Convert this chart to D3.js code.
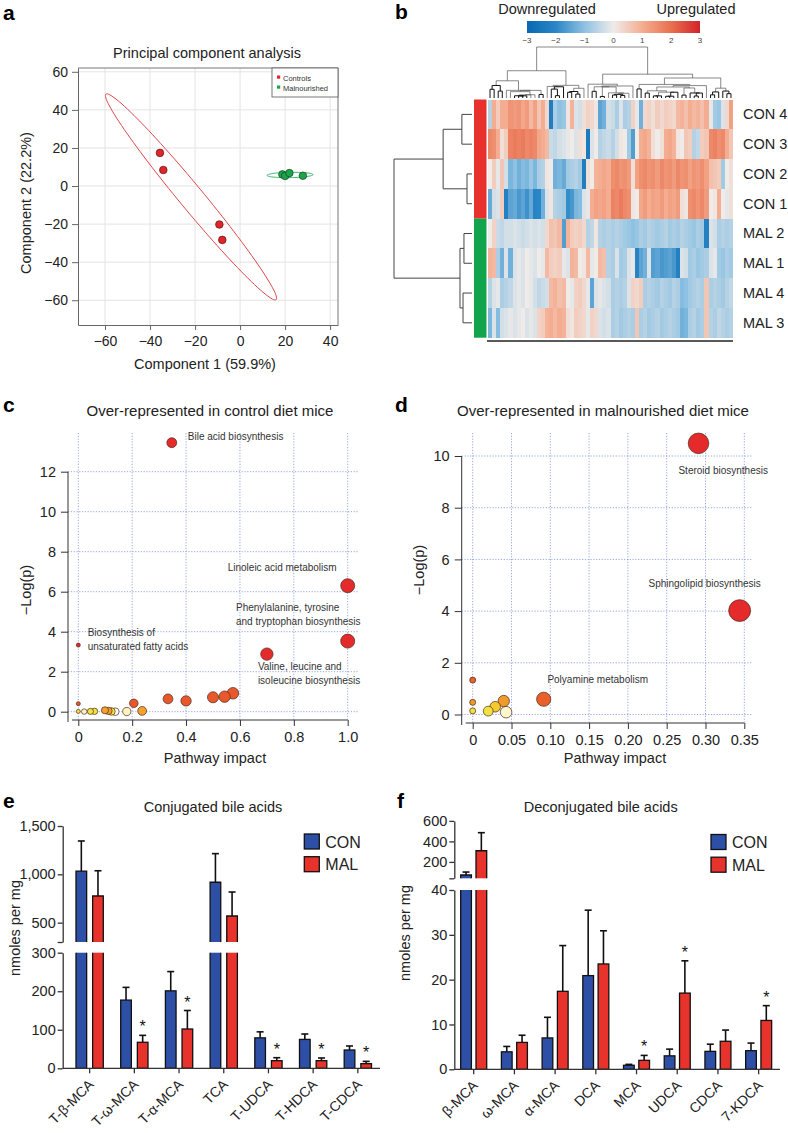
<!DOCTYPE html>
<html><head><meta charset="utf-8">
<script src="https://cdn.jsdelivr.net/npm/d3@7"></script>
<style>
body{margin:0;background:#fff;}
svg{display:block;font-family:"Liberation Sans",Arial,Helvetica,sans-serif;}
</style></head><body>
<svg id="fig" width="788" height="1133"></svg>
<script>
// ================= DATA =================
// a: PCA
const pcaConX = [-35.6, -34.1, -9.2, -7.9];
const pcaConY = [17.4, 8.4, -20.2, -28.3];
const pcaMalX = [18.8, 20.0, 21.9, 27.9];
const pcaMalY = [6.1, 5.3, 6.8, 5.4];
const pcaTicksX = [-60, -40, -20, 0, 20, 40];
const pcaTicksY = [-60, -40, -20, 0, 20, 40, 60];
const ellCon = {cx: -21.8, cy: -5.7, ax: 37.8, ay: -54, bx: 4.1, by: 4.0};
const ellMal = {cx: 22.2, cy: 5.8, ax: 10.2, ay: 0.2, bx: 0, by: 1.4};
const pcaLegend = ["Controls", "Malnourished"];

// b: heatmap (z-scores, 60 feature columns in display order)
const hmRows = ["CON 4", "CON 3", "CON 2", "CON 1", "MAL 2", "MAL 1", "MAL 4", "MAL 3"];
const hmCON4 = [-0.6,1.0,0.5,1.0,1.0,1.4,1.3,1.4,1.1,1.3,0.8,1.2,0.6,1.0,0.3,-2.3,-0.7,-1.0,-0.9,0.1,0.9,-0.2,-0.3,0.2,0.4,0.3,0.1,-1.5,-1.3,-0.3,-0.4,-0.7,-0.2,-0.7,-0.6,0.4,-0.1,-1.3,0.3,0.4,0.2,0.5,0.3,0.5,0.4,0.3,0.8,0.9,0.7,1.0,0.8,0.9,0.7,1.0,-0.1,-0.8,-0.9,-0.2,0.3,1.2];
const hmCON3 = [1.6,1.5,1.0,0.2,0.5,1.7,1.8,1.7,1.8,1.6,1.7,1.6,1.1,1.0,0.8,-0.4,-0.5,-0.3,-0.2,-0.1,0.0,-0.2,0.2,0.1,-2.4,-0.2,0.0,-0.6,-0.5,-0.4,-0.6,-0.3,0.1,0.0,-0.8,-1.6,0.0,1.0,1.1,0.9,0.2,0.0,0.2,1.0,1.1,0.9,0.1,0.0,0.6,0.5,-0.6,-0.5,0.5,0.6,1.6,1.7,1.5,1.6,1.0,0.6];
const hmCON2 = [0.0,0.5,-0.1,0.6,-0.3,-1.2,-1.0,-1.3,-1.1,-1.2,-0.9,-1.2,-0.7,-0.6,0.1,0.0,-1.3,-1.2,-1.4,-0.8,-0.7,-0.6,-0.8,-2.3,0.2,0.0,0.9,1.0,1.1,1.0,1.5,1.6,1.4,1.5,1.3,0.2,1.2,1.5,1.6,1.4,1.5,1.3,1.6,1.4,1.5,1.3,1.6,1.4,1.5,1.2,1.4,1.3,1.5,1.2,0.7,0.6,0.5,-0.8,0.0,0.2];
const hmCON1 = [-1.4,-0.3,-0.2,0.5,-2.2,-1.5,-1.4,-1.7,-1.5,-1.8,-1.4,-2.1,-2.0,-1.3,-0.2,0.1,-0.6,-0.7,-0.8,-1.9,-1.7,-1.2,-1.1,-0.2,-0.1,1.0,1.2,1.1,1.2,1.0,1.7,1.6,1.8,1.6,1.5,0.1,0.0,1.1,1.3,1.0,1.2,1.1,1.3,1.0,1.2,1.1,1.3,0.2,0.1,1.5,1.6,1.4,1.6,1.3,0.0,0.1,1.0,0.0,-0.1,0.2];
const hmMAL2 = [0.0,0.4,-0.4,-0.5,-0.3,-0.3,-0.2,-0.3,-0.4,-0.3,-0.2,-0.3,-0.2,-0.3,0.3,0.7,0.6,0.8,-1.6,0.9,0.5,0.4,0.5,0.3,-0.6,-0.5,0.1,-0.6,-0.7,-0.6,-0.7,-0.6,-0.7,-0.8,-0.9,-1.0,-0.9,-0.7,-0.8,-0.6,-0.7,-0.8,-0.7,-0.6,-0.8,-0.7,-0.8,-0.6,-0.7,-0.8,-0.9,-0.7,-0.8,-2.2,-0.2,-0.3,-0.7,-0.6,-0.7,-0.6];
const hmMAL1 = [0.9,0.8,-0.7,-1.3,-0.2,-1.3,-0.2,-0.1,-0.2,0.0,-0.1,-0.2,0.0,-0.1,0.8,0.5,0.4,0.5,-0.1,-0.2,0.9,0.8,0.0,0.1,0.8,-0.1,0.0,0.8,0.7,-0.6,-0.7,-0.2,-0.8,-0.7,-0.2,-0.1,-2.1,-1.5,-1.3,-0.2,-1.6,-1.5,-1.7,-1.6,-1.5,-1.7,-2.2,-0.2,-0.3,-0.8,-0.7,-0.9,-0.8,-0.7,-0.2,-0.1,-0.8,-0.9,-0.7,-0.8];
const hmMAL4 = [-0.6,-0.2,-0.1,-0.7,-0.6,-0.5,-0.2,-0.1,-0.2,0.0,-0.1,-0.3,-0.5,-0.4,-0.3,0.8,0.9,0.7,0.8,0.0,-0.1,0.4,0.5,0.3,-0.1,-1.5,-0.2,-0.1,-0.2,-0.3,-0.7,-0.6,-0.7,-0.6,-0.2,0.4,0.3,0.5,-0.7,-0.6,-0.7,-0.8,-0.6,-0.7,-0.8,-0.6,-0.7,-1.1,-1.0,-0.8,-0.7,-0.6,-0.7,0.6,-0.7,-0.6,-0.7,-0.8,-0.6,-0.5];
const hmMAL3 = [-1.2,-0.2,-1.1,-0.3,-0.2,-0.1,-0.2,-0.1,0.0,-0.2,-0.1,-0.2,0.4,0.5,0.9,1.0,0.8,1.0,0.9,0.2,0.1,0.5,0.4,0.3,-0.1,0.4,0.3,-0.2,-0.3,-0.2,-0.7,-0.6,-0.8,-0.7,-0.6,-0.7,0.6,-0.7,-0.6,-0.8,-0.7,-0.6,-0.8,-0.7,-0.6,-0.7,-0.8,-1.3,-1.2,-0.7,-0.6,-0.8,-0.7,0.6,-0.6,-0.7,-0.5,-0.6,-0.7,-0.6];
const hmTicks = [-3, -2, -1, 0, 1, 2, 3];
// row dendrogram (merge heights)
const rowDendro = {h: 10, c: [
  {h: 3.7, c: [{h: 1.3, c: ["CON 4", "CON 3"]}, {h: 0.64, c: ["CON 2", "CON 1"]}]},
  {h: 1.54, c: [{h: 1.03, c: ["MAL 2", "MAL 1"]}, {h: 1.15, c: ["MAL 4", "MAL 3"]}]}
]};

// c: pathway analysis, control
const impC = [0.347, 1.0, 1.0, 0.0, 0.70, 0.574, 0.543, 0.50, 0.40, 0.333, 0.206, 0.0, 0.237, 0.099, 0.112, 0.0, 0.022, 0.045, 0.06, 0.123, 0.137, 0.18];
const lpC  = [13.45, 6.3, 3.53, 3.33, 2.88, 0.92, 0.75, 0.72, 0.54, 0.64, 0.42, 0.40, 0.04, 0.07, 0.04, 0.015, 0.005, 0.015, 0.018, 0.012, 0.0, 0.006];
const nameC = ["Bile acid biosynthesis", "Linoleic acid metabolism", "Phenylalanine, tyrosine|and tryptophan biosynthesis", "Biosynthesis of|unsaturated fatty acids", "Valine, leucine and|isoleucine biosynthesis", "", "", "", "", "", "", "", "", "", "", "", "", "", "", "", "", ""];
const ticksCx = [0, 0.2, 0.4, 0.6, 0.8, 1.0];
const ticksCy = [0, 2, 4, 6, 8, 10, 12];

// d: pathway analysis, malnourished
const impD = [0.291, 0.344, 0.0915, 0.0, 0.0, 0.0, 0.02, 0.029, 0.04, 0.043];
const lpD  = [10.49, 4.02, 0.59, 1.33, 0.47, 0.14, 0.13, 0.30, 0.52, 0.09];
const nameD = ["Steroid biosynthesis", "Sphingolipid biosynthesis", "Polyamine metabolism", "", "", "", "", "", "", ""];
const ticksDx = [0, 0.05, 0.10, 0.15, 0.20, 0.25, 0.30, 0.35];
const ticksDy = [0, 2, 4, 6, 8, 10];

// e: conjugated bile acids (nmoles per mg)
const conjCats = ["T-β-MCA", "T-ω-MCA", "T-α-MCA", "TCA", "T-UDCA", "T-HDCA", "T-CDCA"];
const conjCON = [1034, 177, 201, 918, 79, 75, 47.5];
const conjCONerr = [311, 33, 50, 296, 15.6, 14, 10.4];
const conjMAL = [776, 67.5, 102, 569, 19.8, 19.8, 12];
const conjMALerr = [261, 18, 48, 248, 7.7, 7, 6];
const conjSig = [false, true, true, false, true, true, true];
const conjTicksLow = [0, 100, 200, 300];
const conjTicksHigh = [300, 500, 1000, 1500];

// f: deconjugated bile acids
const deconjCats = ["β-MCA", "ω-MCA", "α-MCA", "DCA", "MCA", "UDCA", "CDCA", "7-KDCA"];
const deconjCON = [72, 3.9, 7.0, 20.9, 0.9, 3.0, 4.0, 4.15];
const deconjCONerr = [29, 1.2, 4.6, 14.6, 0.2, 1.5, 1.6, 1.7];
const deconjMAL = [309, 6.0, 17.4, 23.5, 2.0, 17.0, 6.25, 10.9];
const deconjMALerr = [176, 1.6, 10.2, 7.4, 1.1, 7.2, 2.5, 3.3];
const deconjSig = [false, false, false, false, true, true, false, true];
const deconjTicksLow = [0, 10, 20, 30, 40];
const deconjTicksHigh = [40, 200, 400, 600];
const groups = ["CON", "MAL"];

// ================= DRAW =================
const svg = d3.select("#fig");
const TXT = "#222";

function styleAxis(sel, fs) {
  sel.attr("font-family", null).attr("font-size", fs);
  sel.selectAll("text").attr("fill", TXT);
  sel.selectAll("line").attr("stroke", "#333");
  sel.selectAll("path").attr("stroke", "#333");
}
function text(g, x, y, s, fs, anchor, extra) {
  const t = g.append("text").attr("x", x).attr("y", y).attr("font-size", fs)
    .attr("text-anchor", anchor || "start").attr("fill", TXT).text(s);
  if (extra) extra(t);
  return t;
}

// panel letters
[["a", 3, 20], ["b", 395, 19], ["c", 3, 412], ["d", 395, 412], ["e", 3, 808], ["f", 397, 808]]
  .forEach(([s, x, y]) => text(svg, x, y, s, 21, "start", t => t.attr("font-weight", "bold").attr("fill", "#000")));

// ---------- a: PCA ----------
(function () {
  const g = svg.append("g");
  const x = d3.scaleLinear().domain([-72, 43.5]).range([78, 338]);
  const y = d3.scaleLinear().domain([-73, 62]).range([325, 68]);
  g.selectAll(null).data(pcaTicksX).join("line")
    .attr("x1", d => x(d)).attr("x2", d => x(d)).attr("y1", 68).attr("y2", 325).attr("stroke", "#e4e4e4");
  g.selectAll(null).data(pcaTicksY).join("line")
    .attr("y1", d => y(d)).attr("y2", d => y(d)).attr("x1", 78).attr("x2", 338).attr("stroke", "#e4e4e4");
  g.append("path").attr("d", `M78,68H338V325`).attr("fill", "none").attr("stroke", "#777");
  function ell(e) {
    const pts = d3.range(0, 361, 3).map(t => {
      const r = t * Math.PI / 180;
      return [x(e.cx + e.ax * Math.cos(r) + e.bx * Math.sin(r)), y(e.cy + e.ay * Math.cos(r) + e.by * Math.sin(r))];
    });
    return d3.line()(pts) + "Z";
  }
  g.append("path").attr("d", ell(ellCon)).attr("fill", "none").attr("stroke", "#e0464a").attr("stroke-width", 1);
  g.append("path").attr("d", ell(ellMal)).attr("fill", "none").attr("stroke", "#2fb463").attr("stroke-width", 1);
  g.selectAll(null).data(d3.range(pcaConX.length)).join("circle")
    .attr("cx", i => x(pcaConX[i])).attr("cy", i => y(pcaConY[i])).attr("r", 3.8)
    .attr("fill", "#e2252b").attr("stroke", "#5a1212").attr("stroke-width", 0.7);
  g.selectAll(null).data(d3.range(pcaMalX.length)).join("circle")
    .attr("cx", i => x(pcaMalX[i])).attr("cy", i => y(pcaMalY[i])).attr("r", 3.8)
    .attr("fill", "#1ea24c").attr("stroke", "#0d4d22").attr("stroke-width", 0.7);
  const ax = g.append("g").attr("transform", "translate(0,325)")
    .call(d3.axisBottom(x).tickValues(pcaTicksX).tickSize(5).tickPadding(6).tickSizeOuter(0));
  styleAxis(ax, 14); ax.selectAll("path,line").attr("stroke", "#666");
  const ay = g.append("g").attr("transform", "translate(78,0)")
    .call(d3.axisLeft(y).tickValues(pcaTicksY).tickSize(6).tickPadding(4).tickSizeOuter(0));
  styleAxis(ay, 14); ay.selectAll("path,line").attr("stroke", "#666");
  g.append("rect").attr("x", 272).attr("y", 68).attr("width", 66).attr("height", 29)
    .attr("fill", "#fff").attr("stroke", "#555").attr("stroke-width", 0.8);
  const lc = ["#e2252b", "#1ea24c"];
  pcaLegend.forEach((s, i) => {
    g.append("rect").attr("x", 277).attr("y", 75.5 + i * 10).attr("width", 3.2).attr("height", 3.2).attr("fill", lc[i]);
    text(g, 283, 80.5 + i * 10, s, 7.5, "start", t => t.attr("fill", "#333"));
  });
  text(g, 207, 58, "Principal component analysis", 14.5, "middle");
  text(g, 205, 369, "Component 1 (59.9%)", 14.5, "middle");
  text(g, 0, 0, "Component 2 (22.2%)", 14.5, "middle", t => t.attr("transform", "translate(31,203) rotate(-90)"));
})();

// ---------- b: heatmap ----------
(function () {
  const g = svg.append("g");
  const rows = [hmCON4, hmCON3, hmCON2, hmCON1, hmMAL2, hmMAL1, hmMAL4, hmMAL3];
  const nCol = hmCON4.length;
  const color = d3.scaleLinear().domain([-3, -2, -1, 0, 1, 2, 3])
    .range(["#0867b0", "#2a86c6", "#8fc2e2", "#efebe9", "#f4ad90", "#e8704f", "#d2222a"]).clamp(true);
  const x = d3.scaleBand().domain(d3.range(nCol)).range([488, 733]);
  const y = d3.scaleBand().domain(hmRows).range([99.5, 337.7]);
  rows.forEach((vals, r) => {
    g.selectAll(null).data(vals).join("rect")
      .attr("x", (d, i) => x(i)).attr("y", y(hmRows[r]))
      .attr("width", x.bandwidth() + 0.4).attr("height", y.bandwidth() + 0.3)
      .attr("fill", d => color(d)).attr("shape-rendering", "crispEdges");
  });
  g.append("rect").attr("x", 474).attr("y", y("CON 4")).attr("width", 12.5).attr("height", y.bandwidth() * 4).attr("fill", "#e8302c");
  g.append("rect").attr("x", 474).attr("y", y("MAL 2")).attr("width", 12.5).attr("height", y.bandwidth() * 4).attr("fill", "#12a44c");
  g.append("line").attr("x1", 487).attr("x2", 733).attr("y1", 341).attr("y2", 341).attr("stroke", "#222").attr("stroke-width", 1.6);
  hmRows.forEach(r => text(g, 743, y(r) + y.bandwidth() / 2 + 5, r, 14.5, "start"));
  const hx = d3.scaleLinear().domain([0, rowDendro.h]).range([472, 394]);
  const dg = g.append("g").attr("stroke", "#444").attr("stroke-width", 1).attr("fill", "none");
  function drawRow(n) {
    if (typeof n === "string") return {x: hx(0), y: y(n) + y.bandwidth() / 2};
    const a = drawRow(n.c[0]), b = drawRow(n.c[1]);
    const nx = hx(n.h);
    dg.append("path").attr("d", `M${a.x},${a.y}H${nx}V${b.y}H${b.x}`);
    return {x: nx, y: (a.y + b.y) / 2};
  }
  drawRow(rowDendro);
  // column dendrogram (adjacency-constrained Ward clustering of the columns)
  let cl = d3.range(nCol).map(i => ({n: 1, c: rows.map(r => r[i]), h: 0, x: x(i) + x.bandwidth() / 2}));
  while (cl.length > 1) {
    let best = Infinity, bi = 0;
    for (let j = 0; j < cl.length - 1; j++) {
      const a = cl[j], b = cl[j + 1];
      let d = 0;
      for (let r = 0; r < a.c.length; r++) { const t = a.c[r] - b.c[r]; d += t * t; }
      d = Math.sqrt(2 * a.n * b.n / (a.n + b.n) * d);
      if (d < best) { best = d; bi = j; }
    }
    const a = cl[bi], b = cl[bi + 1], n = a.n + b.n;
    cl.splice(bi, 2, {kids: [a, b], n, c: a.c.map((v, r) => (v * a.n + b.c[r] * b.n) / n),
      h: Math.max(best, a.h, b.h) + 0.01, x: (a.x + b.x) / 2});
  }
  const root = cl[0];
  const hy = d3.scalePow().exponent(0.9).domain([0, root.h]).range([98, 47]);
  const cg = g.append("g").attr("fill", "none");
  (function drawCol(n, depth) {
    if (!n.kids) return;
    const [a, b] = n.kids;
    cg.append("path").attr("d", `M${a.x},${hy(a.h)}V${hy(n.h)}H${b.x}V${hy(b.h)}`)
      .attr("stroke", n.n <= 4 ? "#111" : "#555").attr("stroke-width", n.n <= 4 ? 1.0 : 0.7);
    drawCol(a); drawCol(b);
  })(root);
  // colour key
  const cb = d3.scaleLinear().domain([-3, 3]).range([527, 700]);
  const defs = svg.append("defs");
  const grad = defs.append("linearGradient").attr("id", "hmgrad");
  d3.range(-3, 3.01, 0.25).forEach(v => grad.append("stop").attr("offset", (v + 3) / 6).attr("stop-color", color(v)));
  g.append("rect").attr("x", cb(-3)).attr("y", 21).attr("width", cb(3) - cb(-3)).attr("height", 12).attr("fill", "url(#hmgrad)");
  hmTicks.forEach(v => text(g, cb(v), 42.5, d3.format("")(v).replace("-", "−"), 8, "middle", t => t.attr("fill", "#444")));
  text(g, 547, 14, "Downregulated", 14.5, "middle");
  text(g, 696, 14, "Upregulated", 14.5, "middle");
})();

// ---------- c / d: pathway bubble plots ----------
function bubblePanel(o) {
  const g = svg.append("g");
  const grid = "#7f8fdc";
  g.selectAll(null).data(o.xTicks).join("line")
    .attr("x1", d => o.x(d)).attr("x2", d => o.x(d)).attr("y1", o.gridTop).attr("y2", o.axisY)
    .attr("stroke", grid).attr("stroke-width", 0.8).attr("stroke-dasharray", "1.2,1.6");
  g.selectAll(null).data(o.yTicks).join("line")
    .attr("y1", d => o.y(d)).attr("y2", d => o.y(d)).attr("x1", o.axisX).attr("x2", o.gridRight)
    .attr("stroke", grid).attr("stroke-width", 0.8).attr("stroke-dasharray", "1.2,1.6");
  const ax = g.append("g").attr("transform", `translate(0,${o.axisY})`)
    .call(d3.axisBottom(o.x).tickValues(o.xTicks).tickFormat(o.xFmt).tickSize(6).tickPadding(6).tickSizeOuter(0));
  ax.select(".domain").remove();
  styleAxis(ax, 14.5);
  g.append("line").attr("x1", o.axisX + 4).attr("x2", o.x(o.xTicks[o.xTicks.length - 1])).attr("y1", o.axisY).attr("y2", o.axisY).attr("stroke", "#333");
  const ay = g.append("g").attr("transform", `translate(${o.axisX},0)`)
    .call(d3.axisLeft(o.y).tickValues(o.yTicks).tickSize(7).tickPadding(5).tickSizeOuter(0));
  ay.select(".domain").remove();
  styleAxis(ay, 14.5);
  g.append("line").attr("x1", o.axisX).attr("x2", o.axisX).attr("y1", o.y(o.yTicks[o.yTicks.length - 1])).attr("y2", o.axisY + 2).attr("stroke", "#333");
  const idx = d3.range(o.imp.length).sort((a, b) => o.r(o.imp[b]) - o.r(o.imp[a]));
  g.selectAll(null).data(idx).join("circle")
    .attr("cx", i => o.x(o.imp[i])).attr("cy", i => o.y(o.lp[i])).attr("r", i => o.r(o.imp[i]))
    .attr("fill", i => o.color(o.lp[i])).attr("stroke", "#4a2a1e").attr("stroke-width", 0.7);
  o.labels.forEach(L => {
    const px = o.x(o.imp[L.i]), py = o.y(o.lp[L.i]);
    o.names[L.i].split("|").forEach((s, k) =>
      text(g, px + L.dx, py + L.dy + k * 14, s, 10, L.anchor || "start", t => t.attr("fill", "#333")));
  });
  text(g, o.titleX, 416, o.title, 15, "middle");
  text(g, o.xLabX, 763, "Pathway impact", 14.5, "middle");
  text(g, 0, 0, "−Log(p)", 14.5, "middle", t => t.attr("transform", `translate(${o.yLabX},${o.yLabY}) rotate(-90)`));
}
const colsC = ["#ffffff", "#fbf3c0", "#f3e244", "#f2a02e", "#e8582b", "#e42a2a"];
bubblePanel({
  imp: impC, lp: lpC, names: nameC,
  x: d3.scaleLinear().domain([0, 1]).range([78.3, 347.7]),
  y: d3.scaleLinear().domain([0, 12]).range([711.7, 471.7]),
  r: d3.scaleSqrt().domain([0, 1]).range([2, 7]),
  color: d3.scaleThreshold().domain([0.002, 0.009, 0.03, 0.3, 2]).range(colsC),
  xTicks: ticksCx, yTicks: ticksCy, xFmt: d => d === 0 ? "0" : d.toFixed(1),
  axisX: 68, axisY: 720, gridTop: 433, gridRight: 358,
  labels: [{i: 0, dx: 16, dy: -2.7}, {i: 1, dx: -120, dy: -15}, {i: 2, dx: -111.7, dy: -30.5},
           {i: 3, dx: 9.4, dy: -9.5}, {i: 4, dx: -9, dy: 15.5}],
  title: "Over-represented in control diet mice", titleX: 210, xLabX: 215, yLabX: 31, yLabY: 590
});
const colsD = ["#fcf6cc", "#f2e240", "#f6ca2c", "#f09a2c", "#e8602a", "#e42a2a"];
bubblePanel({
  imp: impD, lp: lpD, names: nameD,
  x: d3.scaleLinear().domain([0, 0.35]).range([472.7, 744.3]),
  y: d3.scaleLinear().domain([0, 10]).range([714.5, 456]),
  r: d3.scaleSqrt().domain([0, 0.35]).range([3, 11]),
  color: d3.scaleThreshold().domain([0.11, 0.2, 0.4, 0.56, 3]).range(colsD),
  xTicks: ticksDx, yTicks: ticksDy, xFmt: d => d === 0 ? "0" : d.toFixed(2),
  axisX: 461.7, axisY: 723, gridTop: 433, gridRight: 752,
  labels: [{i: 0, dx: 24.7, dy: 30.7, anchor: "middle"}, {i: 1, dx: -35, dy: -24, anchor: "middle"},
           {i: 2, dx: 54, dy: -16, anchor: "middle"}],
  title: "Over-represented in malnourished diet mice", titleX: 603, xLabX: 615, yLabX: 424, yLabY: 570
});

// ---------- e / f: bar charts with broken axis ----------
function barPanel(o) {
  const g = svg.append("g");
  const x0 = d3.scaleBand().domain(o.cats).range(o.xr).padding(0);
  const x1 = d3.scaleBand().domain(groups).range(o.ir).paddingInner(o.pi).paddingOuter(0);
  const yb = v => v <= o.brk ? o.low(v) : o.high(v);
  const fills = {CON: "#2e4fa6", MAL: "#e8322c"};
  const series = [{k: "CON", v: o.con, e: o.conErr}, {k: "MAL", v: o.mal, e: o.malErr}];
  const yZero = o.low(0);
  series.forEach(s => {
    o.cats.forEach((cat, i) => {
      const v = s.v[i], w = x1.bandwidth(), bx = x0(cat) + x1(s.k), cx = bx + w / 2;
      const top = yb(v + s.e[i]);
      g.append("line").attr("x1", cx).attr("x2", cx).attr("y1", yb(v)).attr("y2", top).attr("stroke", "#111").attr("stroke-width", 1.6);
      g.append("line").attr("x1", cx - 3.5).attr("x2", cx + 3.5).attr("y1", top).attr("y2", top).attr("stroke", "#111").attr("stroke-width", 1.6);
      if (v <= o.brk) {
        g.append("rect").attr("x", bx).attr("y", o.low(v)).attr("width", w).attr("height", yZero - o.low(v))
          .attr("fill", fills[s.k]).attr("stroke", "#111").attr("stroke-width", 1.3);
      } else {
        const lt = o.low(o.brk), hb = o.high(o.brk), ht = o.high(v);
        g.append("rect").attr("x", bx).attr("y", lt).attr("width", w).attr("height", yZero - lt).attr("fill", fills[s.k]);
        g.append("rect").attr("x", bx).attr("y", ht).attr("width", w).attr("height", hb - ht).attr("fill", fills[s.k]);
        g.append("path").attr("d", `M${bx},${lt}V${yZero}H${bx + w}V${lt}M${bx},${hb}V${ht}H${bx + w}V${hb}`)
          .attr("fill", "none").attr("stroke", "#111").attr("stroke-width", 1.3);
      }
      if (s.k === "MAL" && o.sig[i])
        text(g, cx, top - 3, "*", 16, "middle", t => t.attr("fill", "#111"));
    });
  });
  const fmt = d3.format(",");
  const al = g.append("g").attr("transform", `translate(${o.axisX},0)`)
    .call(d3.axisLeft(o.low).tickValues(o.lowTicks).tickFormat(fmt).tickSize(5).tickPadding(2).tickSizeOuter(0));
  styleAxis(al, 14.5); al.selectAll("path,line").attr("stroke-width", 1.3);
  const ah = g.append("g").attr("transform", `translate(${o.axisX},0)`)
    .call(d3.axisLeft(o.high).tickValues(o.highTicks).tickFormat(d => d === o.brk ? "" : fmt(d)).tickSize(5).tickPadding(2).tickSizeOuter(0));
  styleAxis(ah, 14.5); ah.selectAll("path,line").attr("stroke-width", 1.3);
  g.append("line").attr("x1", o.axisX).attr("x2", o.xEnd).attr("y1", yZero).attr("y2", yZero).attr("stroke", "#333").attr("stroke-width", 1.3);
  o.cats.forEach(c => {
    const cx = x0(c) + x0.bandwidth() / 2;
    g.append("line").attr("x1", cx).attr("x2", cx).attr("y1", yZero).attr("y2", yZero + 5).attr("stroke", "#333").attr("stroke-width", 1.3);
    text(g, 0, 0, c, 14, "end", t => t.attr("transform", `translate(${cx + 5},${yZero + 17}) rotate(-45)`));
  });
  groups.forEach((k, j) => {
    g.append("rect").attr("x", o.legX).attr("y", o.legY + j * 22.7).attr("width", 15).attr("height", 15)
      .attr("fill", fills[k]).attr("stroke", "#111").attr("stroke-width", 1.3);
    text(g, o.legX + 21, o.legY + j * 22.7 + 13.5, k, 16, "start");
  });
  text(g, o.titleX, 812, o.title, 14.5, "middle");
  text(g, 0, 0, "nmoles per mg", 14.5, "middle", t => t.attr("transform", `translate(${o.yLabX},${o.yLabY}) rotate(-90)`));
}
barPanel({
  cats: conjCats, con: conjCON, conErr: conjCONerr, mal: conjMAL, malErr: conjMALerr, sig: conjSig,
  xr: [67.3, 380.2], ir: [8.7, 36], pi: 0.36, brk: 300,
  low: d3.scaleLinear().domain([0, 300]).range([1068.3, 952.7]),
  high: d3.scaleLinear().domain([300, 1500]).range([942, 826]),
  lowTicks: conjTicksLow, highTicks: conjTicksHigh,
  axisX: 62.7, xEnd: 380, legX: 304.3, legY: 834,
  title: "Conjugated bile acids", titleX: 213, yLabX: 20, yLabY: 928
});
barPanel({
  cats: deconjCats, con: deconjCON, conErr: deconjCONerr, mal: deconjMAL, malErr: deconjMALerr, sig: deconjSig,
  xr: [453.35, 779], ir: [7.35, 33.35], pi: 0.3, brk: 40,
  low: d3.scaleLinear().domain([0, 40]).range([1069.3, 890]),
  high: d3.scaleLinear().domain([40, 600]).range([878.3, 820.9]),
  lowTicks: deconjTicksLow, highTicks: deconjTicksHigh,
  axisX: 454.3, xEnd: 780, legX: 711, legY: 834.5,
  title: "Deconjugated bile acids", titleX: 600.7, yLabX: 410, yLabY: 933
});
</script>
</body></html>
